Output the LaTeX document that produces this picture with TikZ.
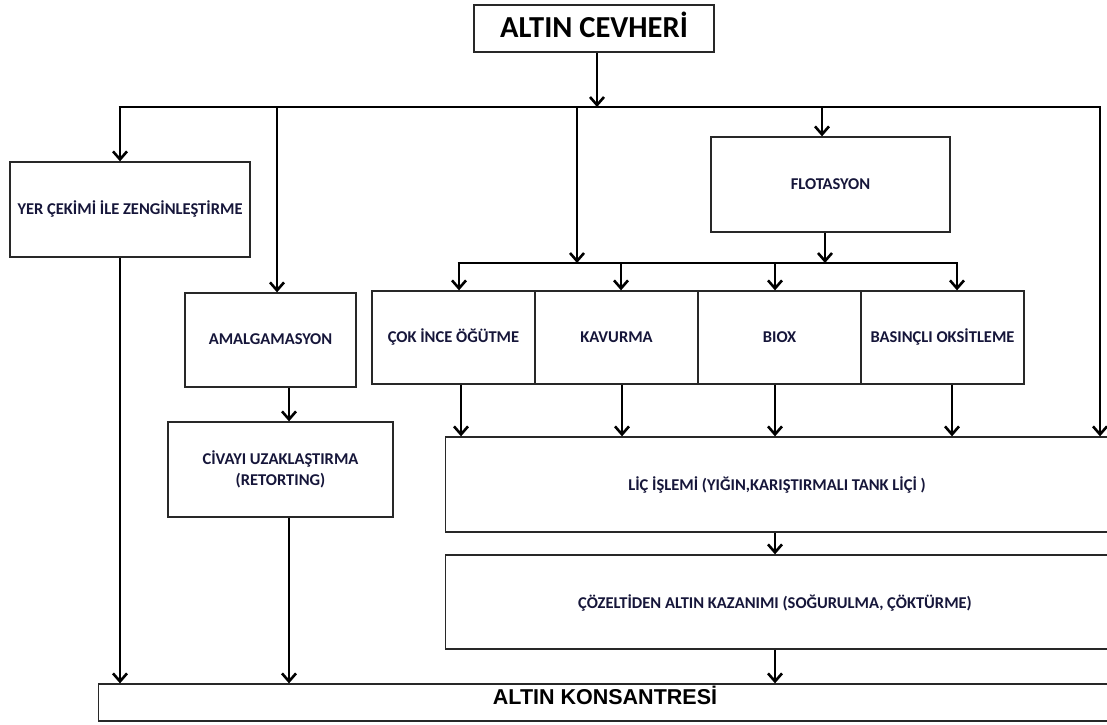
\documentclass[tikz,border=0pt]{standalone}
\usepackage{fontspec}
\setmainfont{Carlito}
\newfontfamily\arialfont{Liberation Sans}
\usetikzlibrary{arrows.meta}
\definecolor{txt}{RGB}{22,22,58}
\definecolor{boxline}{RGB}{40,40,40}
\tikzset{
  lbl/.style={font=\fontsize{16.5}{19}\selectfont\bfseries, text=txt, align=center},
  box/.style={draw=boxline, line width=1.3pt, fill=white, inner sep=0pt, lbl},
  one/.style={text height=12pt, text depth=3pt},
  flow/.style={line width=2.6pt, -{Straight Barb[length=8pt,width=14pt,line width=2.6pt]}},
  bus/.style={line width=2.6pt}
}
\begin{document}
\begin{tikzpicture}[x=1pt,y=-1pt]
\useasboundingbox (0,0) rectangle (1107,724);
\clip (0,0) rectangle (1107,724);
\fill[white] (0,0) rectangle (1107,724);
% boxes
\node[box, minimum width=240pt, minimum height=47pt] (ore) at (594,28.5) {};
\node[font=\fontsize{30.5}{33}\selectfont\bfseries, text=black] (oret) at (594,25) {ALTIN CEVHERİ};
\node[box, one, minimum width=240pt, minimum height=95pt] (yer) at (130,209.5) {YER ÇEKİMİ İLE ZENGİNLEŞTİRME};
\node[box, one, minimum width=239pt, minimum height=95pt] (flo) at (830.5,184.5) {FLOTASYON};
\node[box, one, minimum width=171pt, minimum height=94pt] (ama) at (270.5,340) {AMALGAMASYON};
\node[box, minimum width=225pt, minimum height=95pt] (civ) at (280.5,469.5) {CİVAYI UZAKLAŞTIRMA\\[2pt](RETORTING)};
\node[box, one, minimum width=163pt, minimum height=93pt] (cok) at (453.5,337.5) {ÇOK İNCE ÖĞÜTME};
\node[box, one, minimum width=163pt, minimum height=93pt] (kav) at (616.5,337.5) {KAVURMA};
\node[box, one, minimum width=163pt, minimum height=93pt] (bio) at (779.5,337.5) {BIOX};
\node[box, one, minimum width=163pt, minimum height=93pt] (bas) at (942.5,337.5) {BASINÇLI OKSİTLEME};
\node[box, minimum width=680pt, minimum height=95pt, anchor=west] (lic) at (445,484.5) {};
\node[lbl, one] (lict) at (777,486) {LİÇ İŞLEMİ (YIĞIN,KARIŞTIRMALI TANK LİÇİ )};
\node[box, minimum width=680pt, minimum height=94pt, anchor=west] (coz) at (445,602) {};
\node[lbl, one] (cozt) at (775,604) {ÇÖZELTİDEN ALTIN KAZANIMI (SOĞURULMA, ÇÖKTÜRME)};
\node[box, minimum width=1030pt, minimum height=37pt, anchor=west] (kon) at (98,702.5) {};
\node[font=\arialfont\fontsize{21.5}{23}\selectfont\bfseries, text=black] (kont) at (605,695) {ALTIN KONSANTRESİ};
% bus coordinates
\coordinate (b1) at (597,107);
\coordinate (bl) at (120,107);
\coordinate (br) at (1100,107);
\coordinate (b2l) at (459,263);
\coordinate (b2r) at (957,263);
% top connectors
\draw[flow] (ore.south -| b1) -- (b1);
\draw[bus] ([xshift=-1.3pt]bl) -- ([xshift=1.3pt]br);
\draw[flow] (bl) -- (yer.north -| bl);
\draw[flow] (277,107) -- (ama.north -| 277,0);
\draw[flow] (577,107) -- (577,263);
\draw[flow] (822,107) -- (flo.north -| 822,0);
\draw[flow] (br) -- (lic.north -| br);
% second bus
\draw[flow] (flo.south -| 825,0) -- (825,263);
\draw[bus] ([xshift=-1.3pt]b2l) -- ([xshift=1.3pt]b2r);
\draw[flow] (b2l) -- (cok.north -| b2l);
\draw[flow] (621,263) -- (kav.north -| 621,0);
\draw[flow] (775,263) -- (bio.north -| 775,0);
\draw[flow] (b2r) -- (bas.north -| b2r);
% to leach
\draw[flow] (cok.south -| 461,0) -- (lic.north -| 461,0);
\draw[flow] (kav.south -| 622,0) -- (lic.north -| 622,0);
\draw[flow] (bio.south -| 775,0) -- (lic.north -| 775,0);
\draw[flow] (bas.south -| 952,0) -- (lic.north -| 952,0);
\draw[flow] (lic.south -| 775,0) -- (coz.north -| 775,0);
\draw[flow] (coz.south -| 775,0) -- (kon.north -| 775,0);
% left branch
\draw[flow] (ama.south -| 289,0) -- (civ.north -| 289,0);
\draw[flow] (civ.south -| 289,0) -- (kon.north -| 289,0);
\draw[flow] (yer.south -| bl) -- (kon.north -| bl);
\end{tikzpicture}
\end{document}
